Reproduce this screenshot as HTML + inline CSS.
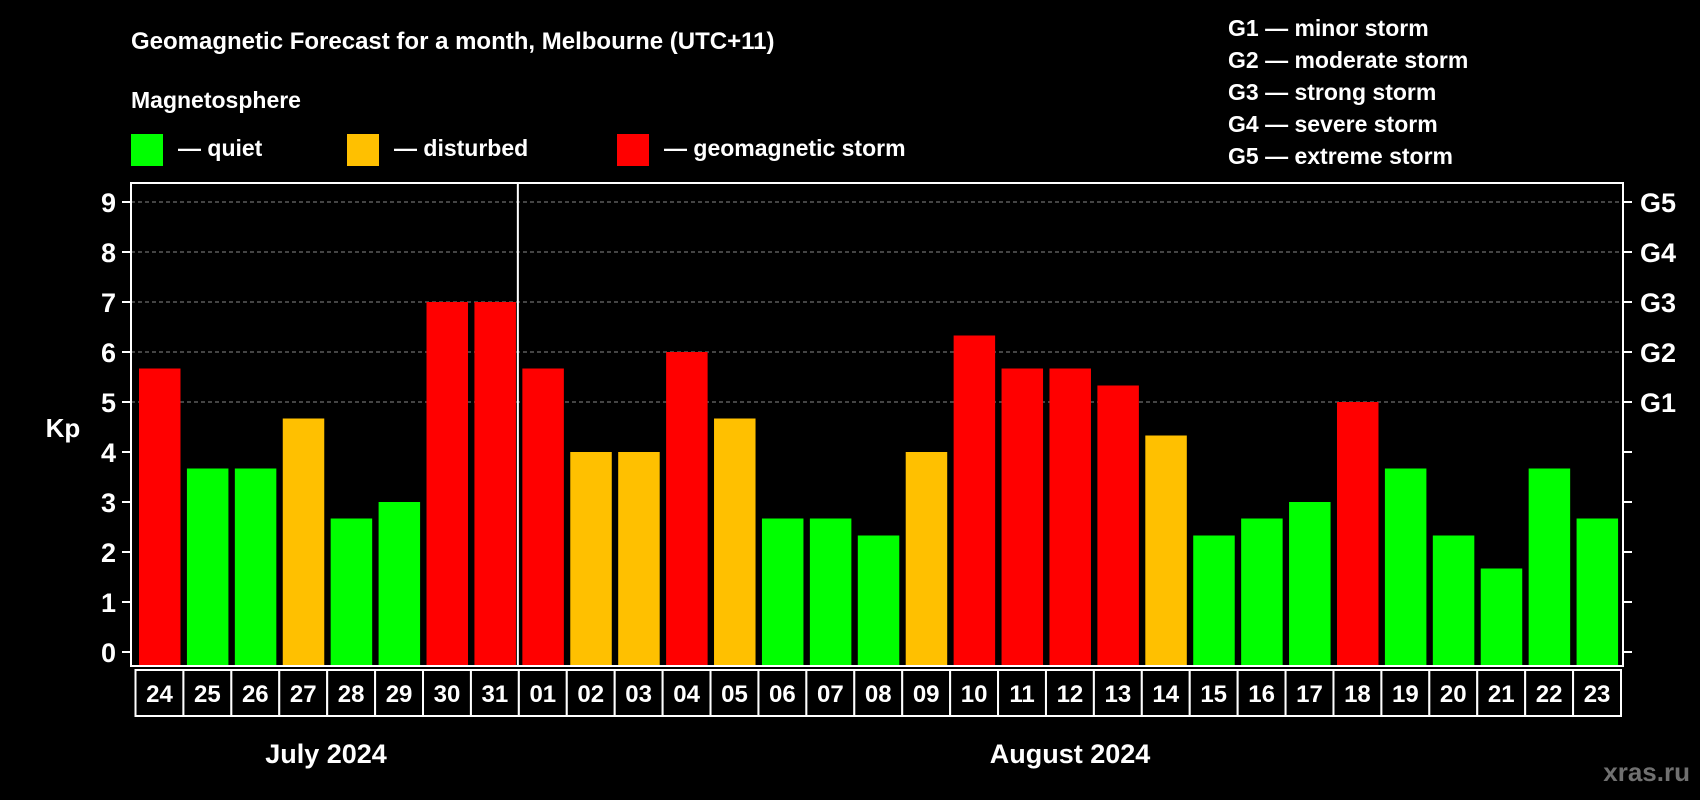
<!DOCTYPE html>
<html><head><meta charset="utf-8"><style>
html,body{margin:0;padding:0;background:#000;}
svg{display:block;font-family:"Liberation Sans",Arial,sans-serif;font-weight:bold;}
</style></head><body>
<svg id="c" width="1700" height="800" viewBox="0 0 1700 800">
<rect width="1700" height="800" fill="#000"/>
<text x="131" y="49" fill="#fff" font-size="24">Geomagnetic Forecast for a month, Melbourne (UTC+11)</text>
<text x="131" y="108" fill="#fff" font-size="23">Magnetosphere</text>
<g><rect x="131" y="134" width="32" height="32" fill="#00ff00"/><text x="178" y="156" fill="#fff" font-size="23">— quiet</text></g>
<g><rect x="347" y="134" width="32" height="32" fill="#ffc000"/><text x="394" y="156" fill="#fff" font-size="23">— disturbed</text></g>
<g><rect x="617" y="134" width="32" height="32" fill="#ff0000"/><text x="664" y="156" fill="#fff" font-size="23">— geomagnetic storm</text></g>
<g fill="#fff" font-size="23">
<text x="1228" y="36">G1 — minor storm</text>
<text x="1228" y="68">G2 — moderate storm</text>
<text x="1228" y="100">G3 — strong storm</text>
<text x="1228" y="132">G4 — severe storm</text>
<text x="1228" y="164">G5 — extreme storm</text>
</g>
<text x="63" y="437" fill="#fff" font-size="26" text-anchor="middle">Kp</text>
<g id="plot"></g>
<text x="326" y="763" fill="#fff" font-size="27" text-anchor="middle">July 2024</text>
<text x="1070" y="763" fill="#fff" font-size="27" text-anchor="middle">August 2024</text>
<text x="1690" y="781" fill="#707070" font-size="26" text-anchor="end">xras.ru</text>
</svg>
<script>
const days=["24","25","26","27","28","29","30","31","01","02","03","04","05","06","07","08","09","10","11","12","13","14","15","16","17","18","19","20","21","22","23"];
const kpValues=[5.67,3.67,3.67,4.67,2.67,3,7,7,5.67,4,4,6,4.67,2.67,2.67,2.33,4,6.33,5.67,5.67,5.33,4.33,2.33,2.67,3,5,3.67,2.33,1.67,3.67,2.67];
const yTicks=[0,1,2,3,4,5,6,7,8,9];
const gLabels=[[5,"G1"],[6,"G2"],[7,"G3"],[8,"G4"],[9,"G5"]];
const monthBreak=8;
const NS="http://www.w3.org/2000/svg";
const L=131,R=1623,T=183,B=666,x0=135.5,pitch=(1621-135.5)/31;
const y=v=>652-v*50;
const x=i=>x0+i*pitch;
const g=document.getElementById('plot');
function mk(t,a){const e=document.createElementNS(NS,t);for(const k in a)e.setAttribute(k,a[k]);g.appendChild(e);return e;}
yTicks.forEach(v=>{
 if(v>=5){const l=mk('line',{x1:L,x2:R,y1:y(v),y2:y(v),stroke:'#888','stroke-dasharray':'4,3','stroke-width':1});
 
 }
 const t1=mk('line',{x1:L-9,x2:L,y1:y(v),y2:y(v),stroke:'#fff','stroke-width':2});
 
 
 const t2=mk('line',{x1:R,x2:R+9,y1:y(v),y2:y(v),stroke:'#fff','stroke-width':2});
 
 
 const tx=mk('text',{x:116,y:y(v)+10,fill:'#fff','font-size':27,'text-anchor':'end'});tx.textContent=v;
 
 
});
gLabels.forEach(([v,s])=>{const tx=mk('text',{x:1640,y:y(v)+10,fill:'#fff','font-size':27});tx.textContent=s;
 
 });
kpValues.forEach((v,i)=>{
 const c=v>=5?'#ff0000':(v>=4?'#ffc000':'#00ff00');
 const r=mk('rect',{x:x(i)+3.5,y:y(v),width:41.5,height:B-y(v),fill:c});
 
 
 const b=mk('rect',{x:x(i),y:670,width:pitch,height:46,fill:'#000',stroke:'#fff','stroke-width':2});
 
 
 const t=mk('text',{x:x(i)+pitch/2,y:702,fill:'#fff','font-size':24,'text-anchor':'middle'});t.textContent=days[i];
 
 
});
const f=mk('rect',{x:L,y:T,width:R-L,height:B-T,fill:'none',stroke:'#fff','stroke-width':2});


const sep=mk('line',{x1:x(monthBreak)-1,x2:x(monthBreak)-1,y1:T,y2:B,stroke:'#fff','stroke-width':2});


</script>
</body></html>
